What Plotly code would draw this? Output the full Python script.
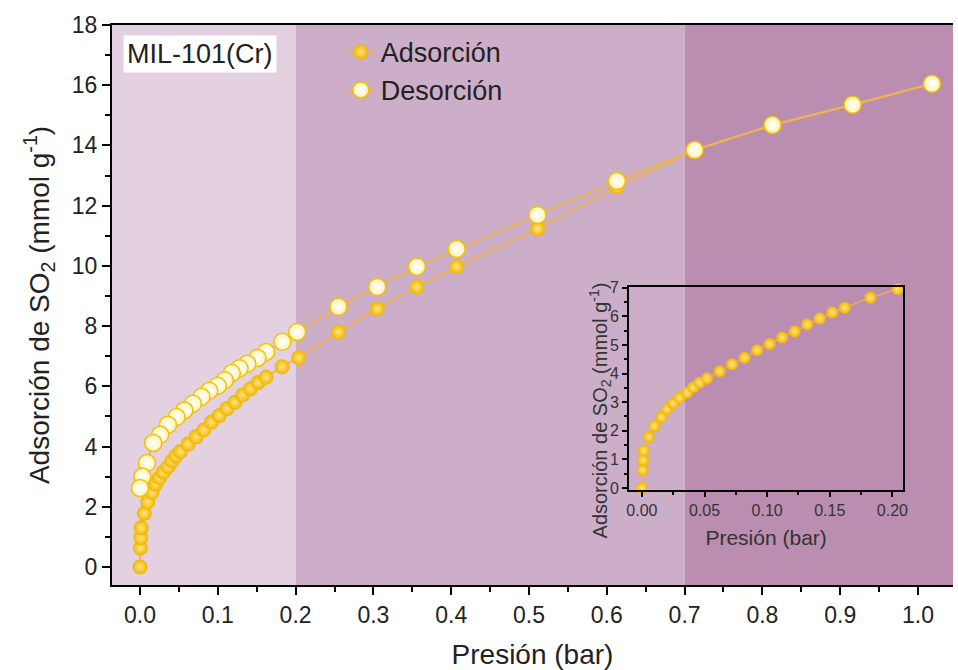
import plotly.graph_objects as go

# ---------------- data ----------------
ads_p = [0.0, 0.0005, 0.001, 0.0015, 0.0055, 0.010, 0.0155, 0.020, 0.025, 0.030,
         0.036, 0.041, 0.046, 0.052, 0.062, 0.072, 0.082, 0.092, 0.102, 0.112,
         0.122, 0.132, 0.142, 0.152, 0.162, 0.1825, 0.204, 0.255, 0.305, 0.356,
         0.407, 0.511, 0.613, 0.713, 0.813, 0.916, 1.018]
ads_q = [0.0, 0.63, 0.97, 1.3, 1.78, 2.16, 2.47, 2.75, 2.96, 3.15,
         3.33, 3.52, 3.68, 3.83, 4.08, 4.32, 4.55, 4.81, 5.03, 5.26,
         5.47, 5.71, 5.92, 6.13, 6.3, 6.65, 6.95, 7.8, 8.57, 9.3,
         9.97, 11.23, 12.62, 13.85, 14.68, 15.35, 16.05]

des_p = [1.018, 0.916, 0.813, 0.713, 0.613, 0.511, 0.407, 0.356, 0.305, 0.255,
         0.202, 0.183, 0.162, 0.151, 0.138, 0.128, 0.118, 0.109, 0.100, 0.089,
         0.079, 0.068, 0.057, 0.047, 0.036, 0.026, 0.017, 0.009, 0.003, 0.0]
des_q = [16.05, 15.35, 14.68, 13.85, 12.82, 11.69, 10.56, 9.97, 9.3, 8.64,
         7.8, 7.48, 7.14, 6.94, 6.75, 6.6, 6.44, 6.2, 6.02, 5.85,
         5.65, 5.42, 5.2, 4.98, 4.72, 4.39, 4.12, 3.45, 3.0, 2.62]

inset_max_p = 0.21

region_edges = [-0.036, 0.2, 0.7, 1.045]
region_colors = ["#e3d1e1", "#ccaec9", "#bb8eb1"]

main_xticks = [0.0, 0.1, 0.2, 0.3, 0.4, 0.5, 0.6, 0.7, 0.8, 0.9, 1.0]
main_yticks = [0, 2, 4, 6, 8, 10, 12, 14, 16, 18]
inset_xticks = [0.00, 0.05, 0.10, 0.15, 0.20]
inset_yticks = [0, 1, 2, 3, 4, 5, 6, 7]

sample_label = "MIL-101(Cr)"
ytitle = "Adsorción de SO<sub>2</sub> (mmol g<sup>-1</sup>)"
xtitle = "Presión (bar)"

# ---------------- styles ----------------
FONT = "Arial, Liberation Sans, sans-serif"
LINE_COL = "rgba(238,178,80,0.9)"
ADS_EDGE = "#f1b400"
ADS_CENTER = "#ffe680"
DES_EDGE = "#fff3b8"
DES_CENTER = "#ffffff"
DES_LINE = "#f4c000"

fig = go.Figure()

fig.add_trace(go.Scatter(
    x=ads_p, y=ads_q, mode="lines+markers", name="Adsorción",
    line=dict(color=LINE_COL, width=2),
    marker=dict(size=15, color=ADS_EDGE,
                gradient=dict(type="radial", color=ADS_CENTER),
                line=dict(width=0)),
    xaxis="x", yaxis="y"))

fig.add_trace(go.Scatter(
    x=des_p, y=des_q, mode="lines+markers", name="Desorción",
    line=dict(color=LINE_COL, width=2),
    marker=dict(size=17, color=DES_EDGE,
                gradient=dict(type="radial", color=DES_CENTER),
                line=dict(width=1.5, color=DES_LINE)),
    xaxis="x", yaxis="y"))

ins_p = [p for p in ads_p if p <= inset_max_p]
ins_q = [q for p, q in zip(ads_p, ads_q) if p <= inset_max_p]
fig.add_trace(go.Scatter(
    x=ins_p, y=ins_q, mode="lines+markers", name="Adsorción (inset)",
    showlegend=False,
    line=dict(color=LINE_COL, width=1.5),
    marker=dict(size=12, color=ADS_EDGE,
                gradient=dict(type="radial", color=ADS_CENTER),
                line=dict(width=0)),
    xaxis="x2", yaxis="y2", cliponaxis=False))

shapes = []
for i, col in enumerate(region_colors):
    shapes.append(dict(type="rect", xref="x", yref="paper",
                       x0=region_edges[i], x1=region_edges[i + 1], y0=0, y1=1,
                       fillcolor=col, line=dict(width=0), layer="below"))

axis_common = dict(showgrid=False, zeroline=False, showline=True,
                   linecolor="black", ticks="outside", tickcolor="black")

fig.update_layout(
    width=958, height=670,
    margin=dict(l=112, r=0, t=25, b=85),
    paper_bgcolor="white", plot_bgcolor="rgba(0,0,0,0)",
    font=dict(family=FONT, color="#222222"),
    shapes=shapes,
    xaxis=dict(**axis_common, range=[region_edges[0], region_edges[-1]],
               tickvals=main_xticks, ticktext=[f"{v:.1f}" for v in main_xticks],
               linewidth=2, tickwidth=2, ticklen=8, mirror=True,
               minor=dict(dtick=0.05, tick0=0, ticks="outside", ticklen=5,
                          tickwidth=2, tickcolor="black"),
               tickfont=dict(size=23, family=FONT, color="#222222"),
               title=dict(text=xtitle, font=dict(size=28, family=FONT, color="#222222"),
                          standoff=18)),
    yaxis=dict(**axis_common, range=[-0.6, 18],
               tickvals=main_yticks, ticktext=[str(v) for v in main_yticks],
               linewidth=2, tickwidth=2, ticklen=8,
               minor=dict(dtick=1, tick0=0, ticks="outside", ticklen=5,
                          tickwidth=2, tickcolor="black"),
               tickfont=dict(size=23, family=FONT, color="#222222"),
               title=dict(text=ytitle, font=dict(size=28, family=FONT, color="#222222"),
                          standoff=14)),
    xaxis2=dict(**axis_common, domain=[0.6147, 0.9409], anchor="y2",
                range=[-0.0103, 0.2087],
                tickvals=inset_xticks, ticktext=[f"{v:.2f}" for v in inset_xticks],
                linewidth=1.5, tickwidth=1.5, ticklen=5, mirror=True,
                minor=dict(dtick=0.025, tick0=0, ticks="outside", ticklen=3,
                           tickwidth=1.5, tickcolor="black"),
                tickfont=dict(size=16, family=FONT, color="#333333"),
                title=dict(text=xtitle, font=dict(size=21, family=FONT, color="#333333"),
                           standoff=12)),
    yaxis2=dict(**axis_common, domain=[0.1696, 0.532], anchor="x2",
                range=[-0.07, 7.02],
                tickvals=inset_yticks, ticktext=[str(v) for v in inset_yticks],
                linewidth=1.5, tickwidth=1.5, ticklen=5, mirror=True,
                minor=dict(dtick=0.5, tick0=0, ticks="outside", ticklen=3,
                           tickwidth=1.5, tickcolor="black"),
                tickfont=dict(size=16, family=FONT, color="#333333")),
    legend=dict(x=0.272, y=0.995, xanchor="left", yanchor="top",
                bgcolor="rgba(0,0,0,0)", borderwidth=0,
                font=dict(size=27, family=FONT, color="#222222"),
                tracegroupgap=0),
    annotations=[
        dict(text=sample_label, xref="paper", yref="paper", x=0.013, y=0.982,
             xanchor="left", yanchor="top", showarrow=False,
             bgcolor="white", borderpad=3,
             font=dict(size=27, family=FONT, color="#222222")),
        dict(text=ytitle, xref="paper", yref="paper", x=0.581, y=0.311,
             xanchor="center", yanchor="middle", textangle=-90, showarrow=False,
             font=dict(size=20, family=FONT, color="#333333")),
    ],
)

fig.write_html("out.html")
